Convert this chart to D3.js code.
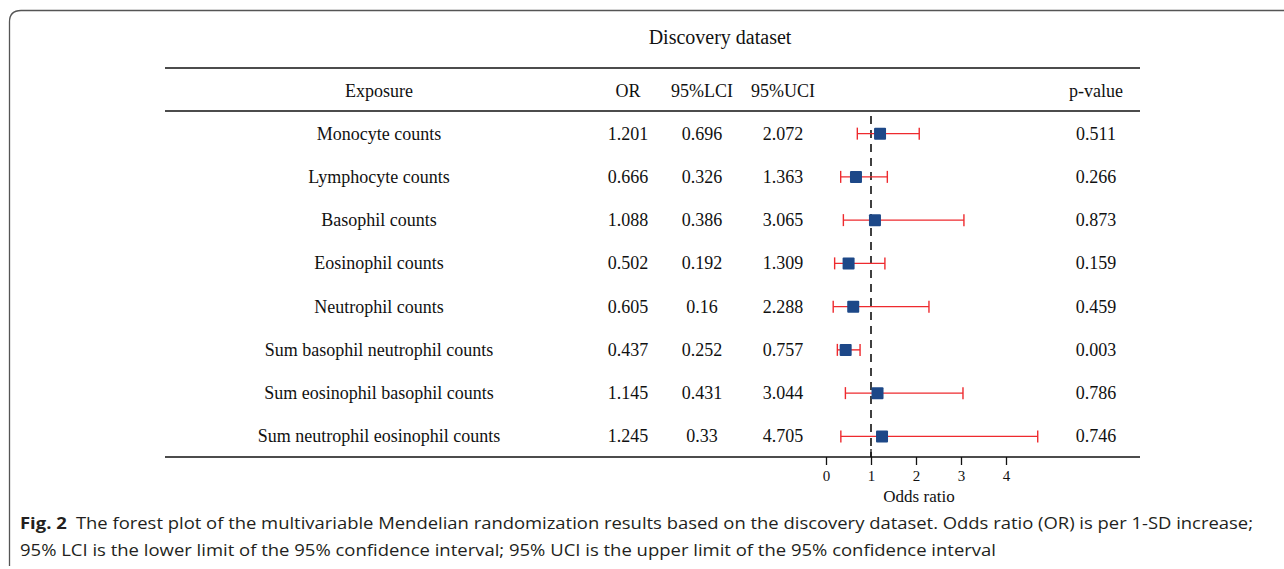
<!DOCTYPE html>
<html>
<head>
<meta charset="utf-8">
<script src="https://cdn.jsdelivr.net/npm/d3@7"></script>
<style>
  body { margin: 0; background: #fff; }
  svg { display: block; }
</style>
</head>
<body>
<svg width="1284" height="569"></svg>
<script>
(function (d3) {
    const exposures = ['Monocyte counts', 'Lymphocyte counts', 'Basophil counts', 'Eosinophil counts',
        'Neutrophil counts', 'Sum basophil neutrophil counts', 'Sum eosinophil basophil counts',
        'Sum neutrophil eosinophil counts'];
    const orValues = [1.201, 0.666, 1.088, 0.502, 0.605, 0.437, 1.145, 1.245];
    const lciValues = [0.696, 0.326, 0.386, 0.192, 0.16, 0.252, 0.431, 0.33];
    const uciValues = [2.072, 1.363, 3.065, 1.309, 2.288, 0.757, 3.044, 4.705];
    const pValues = ['0.511', '0.266', '0.873', '0.159', '0.459', '0.003', '0.786', '0.746'];
    const orLabels = ['1.201', '0.666', '1.088', '0.502', '0.605', '0.437', '1.145', '1.245'];
    const lciLabels = ['0.696', '0.326', '0.386', '0.192', '0.16', '0.252', '0.431', '0.33'];
    const uciLabels = ['2.072', '1.363', '3.065', '1.309', '2.288', '0.757', '3.044', '4.705'];
    const xTicks = [0, 1, 2, 3, 4];

    const svg = d3.select('svg');
    const serif = '"Liberation Serif", "Times New Roman", serif';
    const sans = '"Open Sans", "Noto Sans", sans-serif';

    // outer frame with rounded corner, open to the right
    svg.append('path')
        .attr('d', 'M9.5,566 L9.5,22 Q9.5,10.5 21,10.5 L1284,10.5')
        .attr('fill', 'none')
        .attr('stroke', '#555')
        .attr('stroke-width', 1.3);

    const left = 165, right = 1140;
    const topRule = 68, headRule = 111, bottomRule = 457;

    const x = d3.scaleLinear().domain([0, 4]).range([826, 1006]);
    const y = d3.scaleBand().domain(exposures).range([111, 457]).padding(0);
    const cy = d => y(d) + y.bandwidth() / 2 + 1;

    svg.append('text')
        .attr('x', 720).attr('y', 44)
        .attr('text-anchor', 'middle')
        .attr('font-family', serif).attr('font-size', 20)
        .attr('fill', '#111')
        .text('Discovery dataset');

    [topRule, headRule, bottomRule].forEach(yy => {
        svg.append('line')
            .attr('x1', left).attr('x2', right)
            .attr('y1', yy).attr('y2', yy)
            .attr('stroke', '#111').attr('stroke-width', 1.3);
    });

    const cols = [
        { x: 379, label: 'Exposure', vals: exposures },
        { x: 628, label: 'OR', vals: orLabels },
        { x: 702, label: '95%LCI', vals: lciLabels },
        { x: 783, label: '95%UCI', vals: uciLabels },
        { x: 1096, label: 'p-value', vals: pValues }
    ];

    cols.forEach(c => {
        svg.append('text')
            .attr('x', c.x).attr('y', 97)
            .attr('text-anchor', 'middle')
            .attr('font-family', serif).attr('font-size', 18)
            .attr('fill', '#111')
            .text(c.label);
        svg.selectAll(null)
            .data(c.vals)
            .join('text')
            .attr('x', c.x)
            .attr('y', (d, i) => cy(exposures[i]) + 6)
            .attr('text-anchor', 'middle')
            .attr('font-family', serif).attr('font-size', 18)
            .attr('fill', '#111')
            .text(d => d);
    });

    // reference line at OR = 1
    svg.append('line')
        .attr('x1', x(1)).attr('x2', x(1))
        .attr('y1', 116).attr('y2', bottomRule)
        .attr('stroke', '#111').attr('stroke-width', 1.6)
        .attr('stroke-dasharray', '8,6');

    const rows = exposures.map((e, i) => ({ e, or: orValues[i], lci: lciValues[i], uci: uciValues[i] }));

    const bars = svg.append('g');
    bars.selectAll('.ci')
        .data(rows)
        .join('line')
        .attr('x1', d => x(d.lci)).attr('x2', d => x(d.uci))
        .attr('y1', d => cy(d.e)).attr('y2', d => cy(d.e))
        .attr('stroke', '#ee2a2e').attr('stroke-width', 1.4);
    ['lci', 'uci'].forEach(k => {
        bars.selectAll('.cap-' + k)
            .data(rows)
            .join('line')
            .attr('x1', d => x(d[k])).attr('x2', d => x(d[k]))
            .attr('y1', d => cy(d.e) - 6).attr('y2', d => cy(d.e) + 6)
            .attr('stroke', '#ee2a2e').attr('stroke-width', 1.4);
    });
    const sq = 12;
    bars.selectAll('rect')
        .data(rows)
        .join('rect')
        .attr('x', d => x(d.or) - sq / 2)
        .attr('y', d => cy(d.e) - sq / 2)
        .attr('width', sq).attr('height', sq)
        .attr('rx', 1)
        .attr('fill', '#1d4888');

    // axis on the bottom rule
    const axis = svg.append('g')
        .attr('transform', `translate(0, ${bottomRule})`)
        .call(d3.axisBottom(x).tickValues(xTicks).tickFormat(d3.format('d')).tickSize(8).tickPadding(5));
    axis.select('.domain').remove();
    axis.selectAll('line').attr('stroke', '#111').attr('stroke-width', 1.3);
    axis.selectAll('text')
        .attr('font-family', serif).attr('font-size', 15).attr('fill', '#111');
    svg.append('line')
        .attr('x1', x(1)).attr('x2', x(1))
        .attr('y1', bottomRule - 8).attr('y2', bottomRule)
        .attr('stroke', '#111').attr('stroke-width', 1.3);

    svg.append('text')
        .attr('x', 919).attr('y', 502)
        .attr('text-anchor', 'middle')
        .attr('font-family', serif).attr('font-size', 17)
        .attr('fill', '#111')
        .text('Odds ratio');

    // caption
    const cap1 = svg.append('text')
        .attr('x', 20).attr('y', 529)
        .attr('font-family', sans).attr('font-size', 16)
        .attr('fill', '#231f20')
        .attr('textLength', 1233).attr('lengthAdjust', 'spacingAndGlyphs');
    cap1.append('tspan').attr('font-weight', 'bold').text('Fig. 2');
    cap1.append('tspan').text('\u2002The forest plot of the multivariable Mendelian randomization results based on the discovery dataset. Odds ratio (OR) is per 1-SD increase;');
    svg.append('text')
        .attr('x', 20).attr('y', 556)
        .attr('font-family', sans).attr('font-size', 16)
        .attr('fill', '#231f20')
        .attr('textLength', 976).attr('lengthAdjust', 'spacingAndGlyphs')
        .text('95% LCI is the lower limit of the 95% confidence interval; 95% UCI is the upper limit of the 95% confidence interval');
}(d3));
</script>
</body>
</html>
